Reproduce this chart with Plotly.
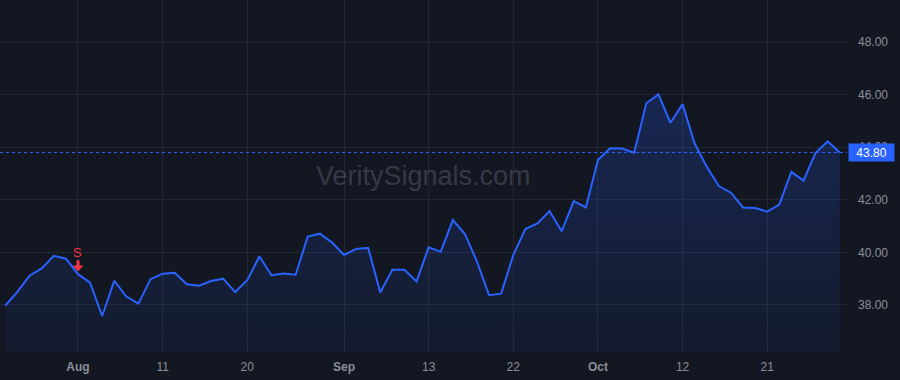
import plotly.graph_objects as go

# ---- data ----
values = [
    37.98, 38.51, 39.11, 39.39, 39.87, 39.76, 39.17, 38.85, 37.58, 38.92,
    38.32, 38.05, 38.98, 39.19, 39.22, 38.79, 38.73, 38.91, 39.00, 38.49,
    38.94, 39.85, 39.13, 39.20, 39.15, 40.60, 40.71, 40.38, 39.90, 40.13,
    40.17, 38.47, 39.34, 39.34, 38.89, 40.19, 40.02, 41.23, 40.70, 39.65,
    38.37, 38.43, 39.90, 40.89, 41.10, 41.57, 40.80, 41.95, 41.71, 43.51,
    43.96, 43.95, 43.79, 45.67, 46.01, 44.93, 45.64, 44.14, 43.26, 42.52,
    42.27, 41.71, 41.69, 41.55, 41.82, 43.06, 42.73, 43.79, 44.22, 43.80,
]
x_idx = list(range(len(values)))

tick_positions = [6, 13, 20, 28, 35, 42, 49, 56, 63]
tick_labels = ["<b>Aug</b>", "11", "20", "<b>Sep</b>", "13", "22", "<b>Oct</b>", "12", "21"]

y_ticks = [38, 40, 42, 44, 46, 48]
y_tick_labels = ["38.00", "40.00", "42.00", "44.00", "46.00", "48.00"]

signal_index = 6
signal_text = "S"
last_value = values[-1]
last_label = "43.80"
watermark = "VeritySignals.com"

# ---- style ----
BG = "#131722"
GRID = "#232733"
LINE = "#2962ff"
TXT = "#8b8e98"
RED = "#f23645"
FONT = "Liberation Sans, Arial, sans-serif"

fig = go.Figure()
fig.add_trace(go.Scatter(
    x=x_idx, y=values, mode="lines",
    line=dict(color=LINE, width=2),
    fill="tozeroy",
    fillgradient=dict(
        type="vertical",
        start=36.2, stop=46.0,
        colorscale=[[0, "rgba(41,98,255,0.05)"], [1, "rgba(41,98,255,0.22)"]],
    ),
    hoverinfo="skip", showlegend=False,
))

# price line
fig.add_shape(type="line", xref="paper", x0=0, x1=1, yref="y", y0=last_value, y1=last_value,
              line=dict(color=LINE, width=1, dash="dot"), layer="above")

# price label
fig.add_annotation(xref="paper", x=1, xanchor="left", xshift=1, y=last_value, yref="y",
                   text=last_label, showarrow=False, bgcolor=LINE,
                   font=dict(color="#ffffff", size=12, family=FONT),
                   width=41, height=13, borderpad=2, align="center")

# watermark
fig.add_annotation(xref="paper", yref="paper", x=0.5, y=0.5, text=watermark, showarrow=False,
                   font=dict(color="rgba(120,123,134,0.37)", size=27, family=FONT))

# sell signal: arrow (tiny invisible text box so the shaft is fully drawn)
fig.add_annotation(x=x_idx[signal_index], y=values[signal_index], text=" ",
                   font=dict(size=1, color=RED), borderpad=0,
                   showarrow=True, arrowhead=1, arrowsize=0.62, arrowwidth=3,
                   arrowcolor=RED, ax=0, ay=-15, standoff=3)
# sell signal: letter
fig.add_annotation(x=x_idx[signal_index], y=values[signal_index], text=signal_text,
                   showarrow=False, yshift=22,
                   font=dict(color=RED, size=13, family=FONT))

fig.update_layout(
    width=900, height=380,
    margin=dict(l=0, r=53, t=0, b=28),
    paper_bgcolor=BG, plot_bgcolor=BG,
    font=dict(family=FONT, color=TXT, size=12),
    xaxis=dict(range=[-0.45, 69.6], tickvals=tick_positions, ticktext=tick_labels,
               showgrid=True, gridcolor=GRID, gridwidth=1, zeroline=False,
               showline=False, ticks="", ticklabelstandoff=6,
               tickfont=dict(color=TXT, size=12)),
    yaxis=dict(range=[36.21, 49.60], side="right", tickvals=y_ticks, ticktext=y_tick_labels,
               showgrid=True, gridcolor=GRID, gridwidth=1, zeroline=False,
               showline=False, ticks="", ticklabelstandoff=10,
               tickfont=dict(color=TXT, size=12)),
)

fig.write_html("out.html")
